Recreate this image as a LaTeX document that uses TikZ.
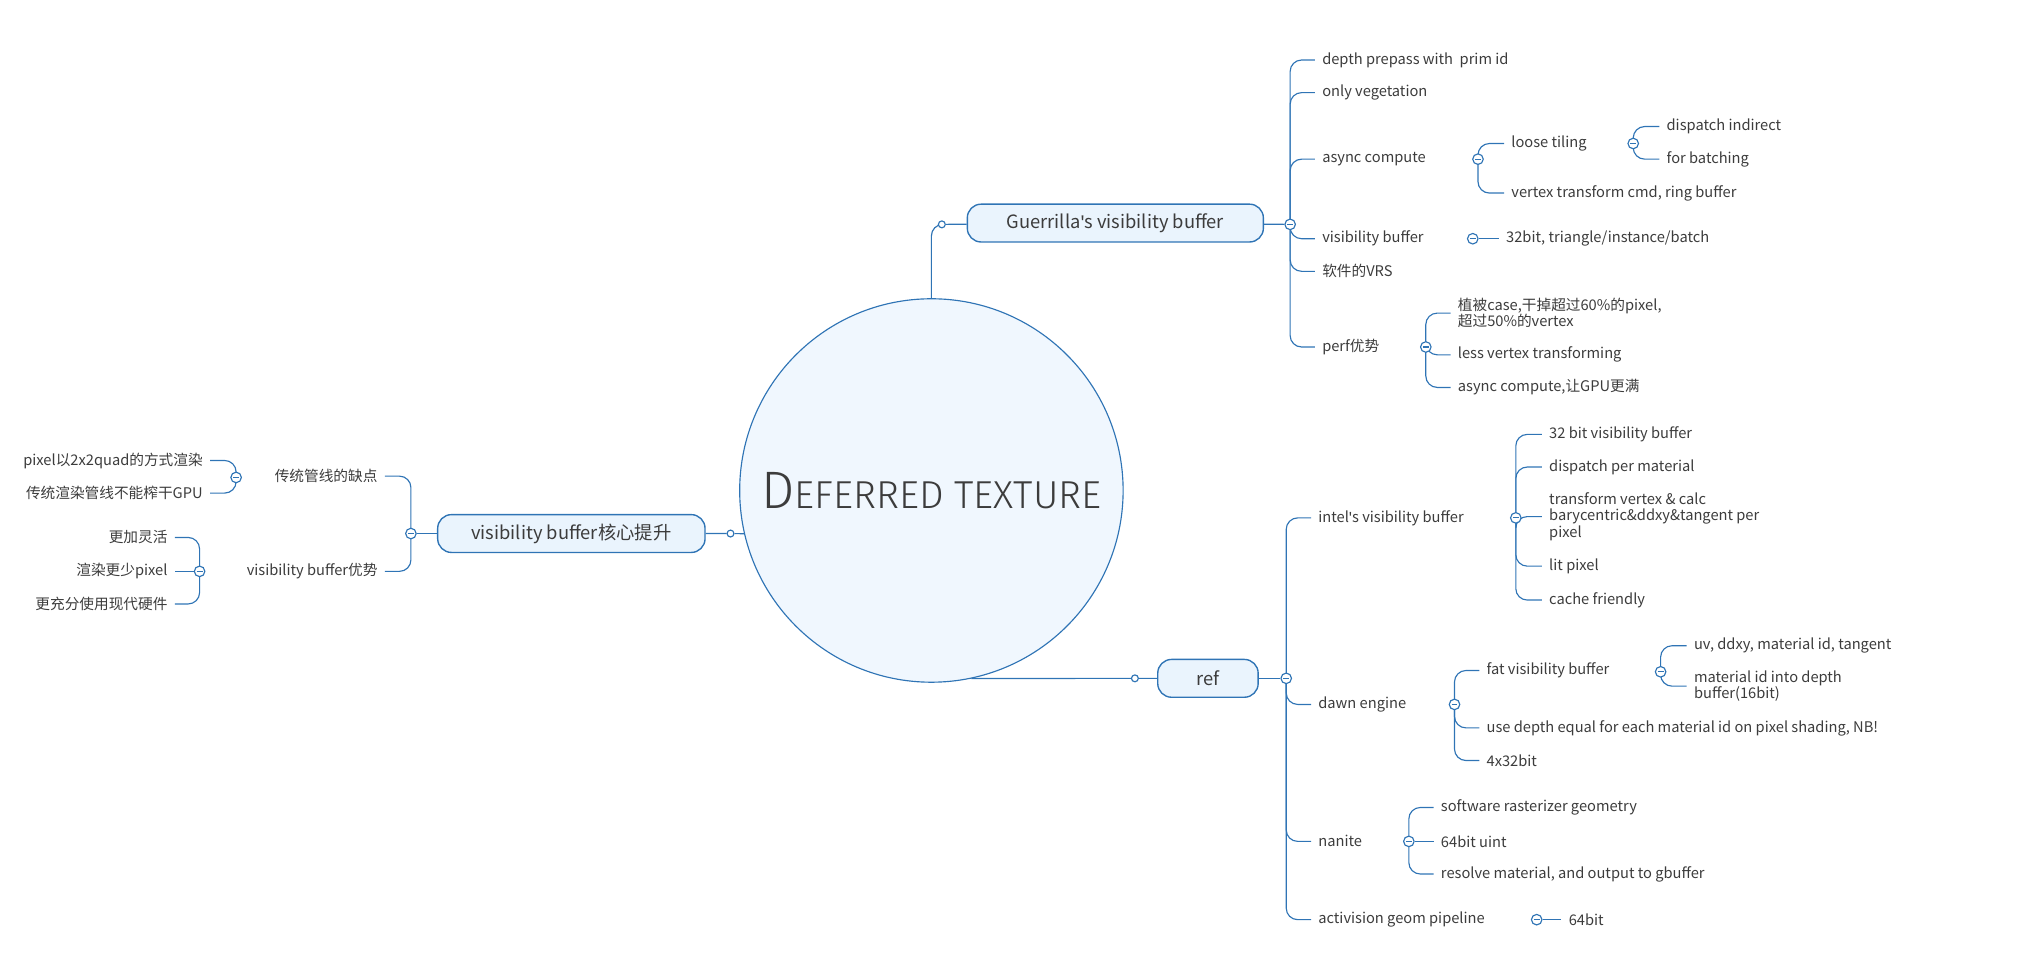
\documentclass[tikz,border=0pt]{standalone}
\usepackage{fontspec}
\setmainfont{Noto Sans CJK SC}
\newfontfamily\titlefont{Fira Sans Light}
\newfontfamily\latinfont{Fira Sans}
\newcommand{\apos}{{\latinfont'}}
\usetikzlibrary{backgrounds}
\definecolor{mmline}{HTML}{2F74B5}
\definecolor{mmfill}{HTML}{EAF4FD}
\definecolor{mmtext}{HTML}{3C3C3C}
\tikzset{
  conn/.style={draw=mmline, line width=0.5pt, rounded corners=5pt},
  leaf/.style={anchor=west, inner xsep=3pt, inner ysep=1pt, align=left,
    text=mmtext, font=\fontsize{6.4}{7.2}\selectfont},
  leafl/.style={leaf, anchor=east, align=right},
  topic/.style={draw=mmline, fill=mmfill, rounded corners=6pt, line width=0.6pt,
    text=mmtext, font=\fontsize{8}{9}\selectfont, minimum height=16.5pt},
  fold/.style={circle, draw=mmline, fill=white, line width=0.5pt, inner sep=0pt,
    minimum size=4.6pt,
    path picture={\draw[mmline, line width=0.45pt]
      ([xshift=-1.3pt]path picture bounding box.center) --
      ([xshift=1.3pt]path picture bounding box.center);}},
  dot/.style={circle, draw=mmline, fill=white, line width=0.5pt, inner sep=0pt,
    minimum size=3pt}
}
\begin{document}
\begin{tikzpicture}[x=0.02cm, y=-0.02cm]
  \useasboundingbox (0,0) rectangle (1560,730);

  % central topic
  \node[circle, draw=mmline, fill=mmfill!70, line width=0.5pt, minimum size=5.88cm,
    text=mmtext] (core) at (714,376)
    {\titlefont\fontsize{17}{20}\selectfont{\fontsize{23}{24}\selectfont D}EFERRED TEXTURE};

  % main topics
  \node[topic, minimum width=4.54cm] (guer) at (855,171) {Guerrilla\apos s visibility buffer};
  \node[topic, minimum width=1.54cm] (ref) at (926,520) {ref};
  \node[topic, minimum width=4.1cm] (core2) at (438,409) {visibility buffer核心提升};
  \node[dot] (gdot) at (722,172) {};
  \node[dot] (rdot) at (870,520) {};
  \node[dot] (ldot) at (560,409) {};

  % Guerrilla branch
  \node[fold] (gm) at (989,172) {};
  \node[leaf] (g1) at (1008,46) {depth prepass with~ prim id};
  \node[leaf] (g2) at (1008,71) {only vegetation};
  \node[leaf] (g3) at (1008,122) {async compute};
  \node[leaf] (g4) at (1008,183) {visibility buffer};
  \node[leaf] (g5) at (1008,208) {软件的VRS};
  \node[leaf] (g6) at (1008,266) {perf优势};
  \node[fold] (g3m) at (1133,122) {};
  \node[leaf] (g31) at (1153,110) {loose tiling};
  \node[leaf] (g32) at (1153,148) {vertex transform cmd, ring buffer};
  \node[fold] (g31m) at (1252,110) {};
  \node[leaf] (g311) at (1272,97) {dispatch indirect};
  \node[leaf] (g312) at (1272,122) {for batching};
  \node[fold] (g4m) at (1129,183) {};
  \node[leaf] (g41) at (1149,183) {32bit, triangle/instance/batch};
  \node[fold] (g6m) at (1093,266) {};
  \node[leaf] (g61) at (1112,240) {植被case,干掉超过60\%的pixel,\\超过50\%的vertex};
  \node[leaf] (g62) at (1112,272) {less vertex transforming};
  \node[leaf] (g63) at (1112,297) {async compute,让GPU更满};

  % ref branch
  \node[fold] (rm) at (986,520) {};
  \node[leaf] (r1) at (1005,397) {intel\apos s visibility buffer};
  \node[leaf] (r2) at (1005,540) {dawn engine};
  \node[leaf] (r3) at (1005,645) {nanite};
  \node[leaf] (r4) at (1005,705) {activision geom pipeline};
  \node[fold] (r1m) at (1162,397) {};
  \node[leaf] (r11) at (1182,333) {32 bit visibility buffer};
  \node[leaf] (r12) at (1182,358) {dispatch per material};
  \node[leaf] (r13) at (1182,396) {transform vertex \& calc\\barycentric\&ddxy\&tangent per\\pixel};
  \node[leaf] (r14) at (1182,434) {lit pixel};
  \node[leaf] (r15) at (1182,460) {cache friendly};
  \node[fold] (r2m) at (1115,540) {};
  \node[leaf] (r21) at (1134,514) {fat visibility buffer};
  \node[leaf] (r22) at (1134,558) {use depth equal for each material id on pixel shading, NB!};
  \node[leaf] (r23) at (1134,583) {4x32bit};
  \node[fold] (r21m) at (1273,515) {};
  \node[leaf] (r211) at (1293,495) {uv, ddxy, material id, tangent};
  \node[leaf] (r212) at (1293,526) {material id into depth\\buffer(16bit)};
  \node[fold] (r3m) at (1080,645) {};
  \node[leaf] (r31) at (1099,619) {software rasterizer geometry};
  \node[leaf] (r32) at (1099,645) {64bit uint};
  \node[leaf] (r33) at (1099,670) {resolve material, and output to gbuffer};
  \node[fold] (r4m) at (1178,705) {};
  \node[leaf] (r41) at (1197,705) {64bit};

  % left branch
  \node[fold] (lm) at (315,409) {};
  \node[leafl] (l1) at (295,365) {传统管线的缺点};
  \node[leafl] (l2) at (295,438) {visibility buffer优势};
  \node[fold] (l1m) at (181,366) {};
  \node[leafl] (l11) at (161,353) {pixel以2x2quad的方式渲染};
  \node[leafl] (l12) at (161,378) {传统渲染管线不能榨干GPU};
  \node[fold] (l2m) at (153,438) {};
  \node[leafl] (l21) at (134,412) {更加灵活};
  \node[leafl] (l22) at (134,438) {渲染更少pixel};
  \node[leafl] (l23) at (134,463) {更充分使用现代硬件};

  \begin{scope}[on background layer]
    \draw[conn] (core.north) |- (gdot);
    \draw[conn] (gdot) -- (guer);
    \draw[conn] (core.-78) -- (rdot) -- (ref);
    \draw[conn] (core.193) -- (ldot) -- (core2);
    \draw[conn] (guer) -- (gm);
    \draw[conn] (ref) -- (rm);
    \draw[conn] (core2) -- (lm);
    \foreach \a/\b in {gm/g1, gm/g2, gm/g3, gm/g4, gm/g5, gm/g6,
        g3m/g31, g3m/g32, g31m/g311, g31m/g312,
        g6m/g61, g6m/g62, g6m/g63,
        rm/r1, rm/r2, rm/r3, rm/r4,
        r1m/r11, r1m/r12, r1m/r13, r1m/r14, r1m/r15,
        r2m/r21, r2m/r22, r2m/r23, r21m/r211, r21m/r212,
        r3m/r31, r3m/r33}
      \draw[conn] (\a.center) |- (\b.west);
    \foreach \a/\b in {g4m/g41, r3m/r32, r4m/r41}
      \draw[conn] (\a) -- (\b.west);
    \foreach \a/\b in {lm/l1, lm/l2, l1m/l11, l1m/l12,
        l2m/l21, l2m/l23}
      \draw[conn] (\a.center) |- (\b.east);
    \draw[conn] (l2m) -- (l22.east);
  \end{scope}
\end{tikzpicture}
\end{document}
